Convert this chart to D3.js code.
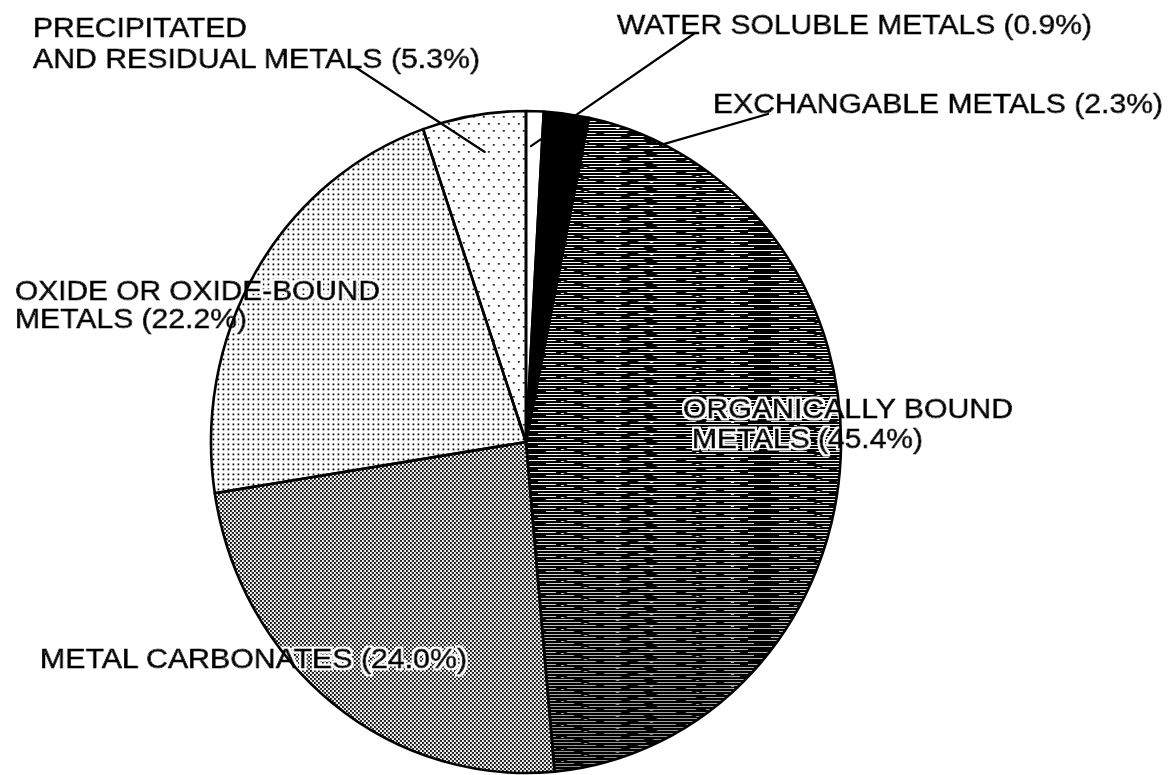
<!DOCTYPE html>
<html>
<head>
<meta charset="utf-8">
<script src="https://cdn.jsdelivr.net/npm/d3@7"></script>
<style>
  html, body { margin: 0; padding: 0; background: #fff; }
  svg { display: block; }
  text { font-family: "Liberation Sans", Arial, Helvetica, sans-serif; }
</style>
</head>
<body>
<script>
// Metal fractions, clockwise from 12 o'clock
const fractions = ["water", "exchangable", "organic", "carbonate", "oxide", "precipitated"];
const shares = [0.9, 2.3, 45.4, 24.0, 22.2, 5.3];
const labelHeads = [
  ["WATER SOLUBLE METALS"],
  ["EXCHANGABLE METALS"],
  ["ORGANICALLY BOUND", "METALS"],
  ["METAL CARBONATES"],
  ["OXIDE OR OXIDE-BOUND", "METALS"],
  ["PRECIPITATED", "AND RESIDUAL METALS"]
];

// Label placement (text baselines, stretched widths, leader lines)
const labelLayout = {
  water:        { x: [617],      y: [34],       w: [475],      leader: { from: [695, 33],  angle: 1.0,   r: 0.894 } },
  exchangable:  { x: [713],      y: [113],      w: [450],      leader: { from: [768, 114], angle: 25.4,  r: 0.993 } },
  organic:      { x: [683, 692], y: [418, 448], w: [330, 231] },
  carbonate:    { x: [40],       y: [668],      w: [427] },
  oxide:        { x: [15, 15],   y: [300, 328], w: [365, 232] },
  precipitated: { x: [33, 33],   y: [37, 68],   w: [214, 447], leader: { from: [355, 67], angle: 351.5, r: 0.886 } }
};

const W = 1173, H = 775;
const cx = 526, cy = 442, rx = 315, ry = 331;
const sx = rx / ry;

const svg = d3.select("body").append("svg")
  .attr("width", W).attr("height", H)
  .attr("viewBox", `0 0 ${W} ${H}`);

const defs = svg.append("defs");

// white knock-out halo behind label glyphs
const halo = defs.append("filter").attr("id", "halo")
  .attr("x", "-5%").attr("y", "-30%").attr("width", "110%").attr("height", "160%");
halo.append("feMorphology").attr("in", "SourceAlpha").attr("operator", "dilate").attr("radius", 2).attr("result", "grown");
halo.append("feFlood").attr("flood-color", "#fff").attr("result", "white");
halo.append("feComposite").attr("in", "white").attr("in2", "grown").attr("operator", "in").attr("result", "ring");
const merge = halo.append("feMerge");
merge.append("feMergeNode").attr("in", "ring");
merge.append("feMergeNode").attr("in", "SourceGraphic");

// patterns are used inside the x-scaled pie group; undo that scale on the tiles
const makePattern = (id, w, h) => {
  const p = defs.append("pattern").attr("id", id)
    .attr("patternUnits", "userSpaceOnUse")
    .attr("patternTransform", `scale(${1 / sx},1)`)
    .attr("width", w).attr("height", h);
  return p;
};

// sparse dot screen
const pPrec = makePattern("fill-precipitated", 10, 14);
pPrec.append("rect").attr("width", 10).attr("height", 14).attr("fill", "#fff");
[[2, 3], [7, 10]].forEach(([x, y]) =>
  pPrec.append("rect").attr("x", x).attr("y", y).attr("width", 1.7).attr("height", 1.7).attr("fill", "#000"));

// regular dot screen
const pOx = makePattern("fill-oxide", 5, 5);
pOx.append("rect").attr("width", 5).attr("height", 5).attr("fill", "#fff");
pOx.append("rect").attr("x", 1.5).attr("y", 1.5).attr("width", 1.8).attr("height", 1.8).attr("fill", "#000");

// dense checker screen
const pCarb = makePattern("fill-carbonate", 4, 4);
pCarb.append("rect").attr("width", 4).attr("height", 4).attr("fill", "#fff");
[[0, 0], [2, 2]].forEach(([x, y]) =>
  pCarb.append("rect").attr("x", x).attr("y", y).attr("width", 1.9).attr("height", 1.9).attr("fill", "#000"));

// dark horizontal line shading with broken white streaks
const orgW = 233, orgH = 12;
const pOrg = makePattern("fill-organic", orgW, orgH);
pOrg.append("rect").attr("width", orgW).attr("height", orgH).attr("fill", "#000");
const streakRows = [
  [0, [[0, 55], [63, 120], [131, 190], [198, 233]]],
  [3, [[12, 70], [78, 101], [112, 170], [180, 222]]],
  [6, [[0, 30], [41, 95], [104, 150], [160, 214], [222, 233]]],
  [9, [[20, 48], [57, 118], [127, 166], [176, 228]]]
];
streakRows.forEach(([y, segs]) => segs.forEach(([x0, x1]) =>
  pOrg.append("rect").attr("x", x0).attr("y", y).attr("width", x1 - x0).attr("height", 1).attr("fill", "#fff")));
[[58, 1], [124, 4], [35, 7], [170, 10], [205, 4], [90, 10]].forEach(([x, y]) =>
  pOrg.append("rect").attr("x", x).attr("y", y).attr("width", 3).attr("height", 1).attr("fill", "#fff"));

// the lower part of the line shading runs darker
const darken = defs.append("linearGradient").attr("id", "organic-darken")
  .attr("x1", 0).attr("y1", 0).attr("x2", 0).attr("y2", 1);
darken.append("stop").attr("offset", "0%").attr("stop-color", "#000").attr("stop-opacity", 0);
darken.append("stop").attr("offset", "55%").attr("stop-color", "#000").attr("stop-opacity", 0.05);
darken.append("stop").attr("offset", "100%").attr("stop-color", "#000").attr("stop-opacity", 0.45);

const fillFor = {
  water: "#fff",
  exchangable: "#000",
  organic: "url(#fill-organic)",
  carbonate: "url(#fill-carbonate)",
  oxide: "url(#fill-oxide)",
  precipitated: "url(#fill-precipitated)"
};

const data = fractions.map((key, i) => ({ key, value: shares[i], head: labelHeads[i] }));

const pie = d3.pie().sort(null).value(d => d.value);
const arcs = pie(data);
const arc = d3.arc().innerRadius(0).outerRadius(ry);

const pieTransform = `translate(${cx},${cy}) scale(${sx},1)`;

// slice fills
const fillG = svg.append("g").attr("transform", pieTransform);
fillG.selectAll("path.slice").data(arcs).join("path")
  .attr("class", "slice")
  .attr("d", arc)
  .attr("fill", d => fillFor[d.data.key])
  .attr("stroke", "none");
// darkening overlay on the line-shaded slice
fillG.selectAll("path.shade").data(arcs.filter(d => d.data.key === "organic")).join("path")
  .attr("class", "shade")
  .attr("d", arc)
  .attr("fill", "url(#organic-darken)")
  .attr("stroke", "none");

// labels
const fmt = d3.format(".1f");
const labelG = svg.append("g").attr("class", "labels").attr("filter", "url(#halo)");
data.forEach(d => {
  const lay = labelLayout[d.key];
  const lines = d.head.slice();
  lines[lines.length - 1] = lines[lines.length - 1] + " (" + fmt(d.value) + "%)";
  const t = labelG.append("text")
    .attr("font-size", 28)
    .attr("fill", "#000").attr("stroke", "#000").attr("stroke-width", 0.9)
    .attr("stroke-linejoin", "round");
  lines.forEach((txt, j) => {
    t.append("tspan")
      .attr("x", lay.x[j]).attr("y", lay.y[j])
      .attr("textLength", lay.w[j]).attr("lengthAdjust", "spacingAndGlyphs")
      .text(txt);
  });
});

// slice outlines drawn over the labels
svg.append("g").attr("transform", pieTransform)
  .selectAll("path").data(arcs).join("path")
  .attr("d", arc)
  .attr("fill", "none")
  .attr("stroke", "#000")
  .attr("stroke-width", 2.6)
  .attr("stroke-linejoin", "round")
  .attr("vector-effect", "non-scaling-stroke");

// leader lines from labels into the pie
const toPie = (angleDeg, r) => {
  const a = angleDeg * Math.PI / 180;
  return [cx + rx * r * Math.sin(a), cy - ry * r * Math.cos(a)];
};
const leaders = data.filter(d => labelLayout[d.key].leader).map(d => {
  const L = labelLayout[d.key].leader;
  return [L.from, toPie(L.angle, L.r)];
});
svg.append("g").selectAll("path").data(leaders).join("path")
  .attr("d", d3.line())
  .attr("fill", "none")
  .attr("stroke", "#000")
  .attr("stroke-width", 2.2)
  .attr("stroke-linecap", "round");
</script>
</body>
</html>
